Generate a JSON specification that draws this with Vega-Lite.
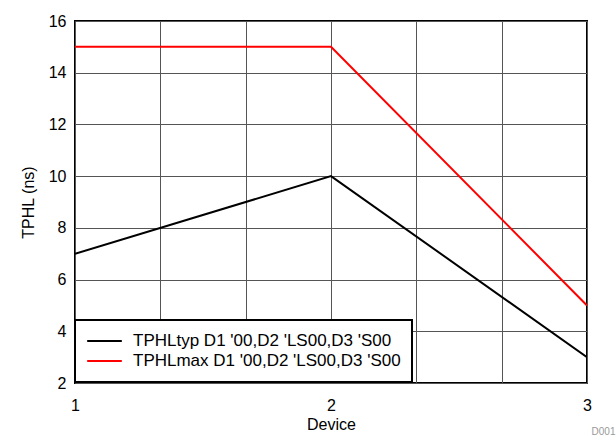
{
  "$schema": "https://vega.github.io/schema/vega-lite/v6.json",
  "width": 512,
  "height": 362,
  "autosize": {"type": "none"},
  "padding": {"left": 75, "top": 21, "right": 29, "bottom": 57},
  "background": "white",
  "data": {
    "values": [
      {"series": "TPHLtyp D1 '00,D2 'LS00,D3 'S00", "device": 1, "tphl": 7},
      {"series": "TPHLtyp D1 '00,D2 'LS00,D3 'S00", "device": 2, "tphl": 10},
      {"series": "TPHLtyp D1 '00,D2 'LS00,D3 'S00", "device": 3, "tphl": 3},
      {"series": "TPHLmax D1 '00,D2 'LS00,D3 'S00", "device": 1, "tphl": 15},
      {"series": "TPHLmax D1 '00,D2 'LS00,D3 'S00", "device": 2, "tphl": 15},
      {"series": "TPHLmax D1 '00,D2 'LS00,D3 'S00", "device": 3, "tphl": 5}
    ]
  },
  "title": {
    "text": "D001",
    "orient": "bottom",
    "anchor": "end",
    "fontSize": 10,
    "font": "Liberation Sans",
    "fontWeight": "normal",
    "color": "#999999",
    "offset": -5,
    "dx": 24
  },
  "mark": {"type": "line", "strokeWidth": 2, "clip": true},
  "encoding": {
    "x": {
      "field": "device",
      "type": "quantitative",
      "scale": {"domain": [1, 3], "nice": false, "zero": false},
      "axis": {
        "title": "Device",
        "values": [1, 1.3333333, 1.6666667, 2, 2.3333333, 2.6666667, 3],
        "labelExpr": "abs(datum.value - round(datum.value)) < 0.001 ? format(datum.value, 'd') : ''",
        "labelFlush": false,
        "ticks": false,
        "domain": false,
        "grid": true,
        "gridColor": "#555555",
        "gridWidth": 1,
        "gridOpacity": 1,
        "labelPadding": 14,
        "titlePadding": 3
      }
    },
    "y": {
      "field": "tphl",
      "type": "quantitative",
      "scale": {"domain": [2, 16], "nice": false, "zero": false},
      "axis": {
        "title": "TPHL (ns)",
        "values": [2, 4, 6, 8, 10, 12, 14, 16],
        "ticks": false,
        "domain": false,
        "grid": true,
        "gridColor": "#555555",
        "gridWidth": 1,
        "gridOpacity": 1,
        "labelPadding": 9,
        "titlePadding": 12
      }
    },
    "color": {
      "field": "series",
      "type": "nominal",
      "scale": {
        "domain": ["TPHLtyp D1 '00,D2 'LS00,D3 'S00", "TPHLmax D1 '00,D2 'LS00,D3 'S00"],
        "range": ["#000000", "#ff0000"]
      },
      "legend": {
        "title": null,
        "orient": "none",
        "legendX": 0,
        "legendY": 299,
        "symbolType": "stroke",
        "symbolSize": 1200,
        "symbolStrokeWidth": 2,
        "clipHeight": 20,
        "fillColor": "white",
        "strokeColor": "black",
        "padding": 11,
        "labelFontSize": 17,
        "labelLimit": 400,
        "rowPadding": 0,
        "labelOffset": 10
      }
    }
  },
  "config": {
    "font": "Liberation Sans",
    "view": {"stroke": "black", "strokeWidth": 2},
    "axis": {
      "labelFont": "Liberation Sans",
      "titleFont": "Liberation Sans",
      "labelFontSize": 16,
      "titleFontSize": 16,
      "titleFontWeight": "normal",
      "labelColor": "#000000",
      "titleColor": "#000000"
    },
    "legend": {"labelFont": "Liberation Sans", "labelColor": "#000000", "strokeWidth": 2}
  }
}
